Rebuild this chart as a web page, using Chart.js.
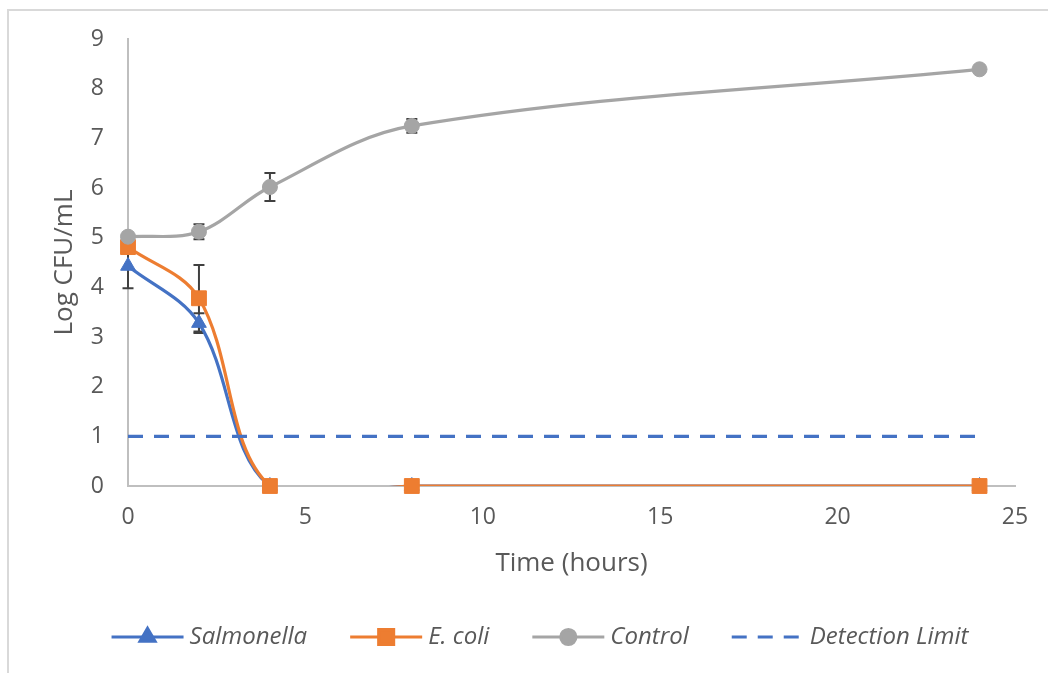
<!DOCTYPE html>
<html>
<head>
<meta charset="utf-8">
<title>Log CFU/mL over time</title>
<script src="https://cdn.jsdelivr.net/npm/chart.js@4.4.0/dist/chart.umd.min.js"></script>
<style>
  html, body { margin: 0; padding: 0; background: #fff; }
  #wrap { width: 1048px; height: 673px; }
</style>
</head>
<body>
<div id="wrap"><canvas id="stage" width="1048" height="673"></canvas></div>
<script>
// sampling times (hours)
var times = [0, 2, 4, 8, 24];
var seriesNames = ['Salmonella', 'E. coli', 'Control', 'Detection Limit'];

// log CFU/mL
var salmonella = [4.43, 3.28, 0, 0, 0];
var salmonellaErr = [0.45, 0.2, 0, 0, 0];
var ecoli = [4.81, 3.78, 0, 0, 0];
var ecoliErr = [0, 0.67, 0, 0, 0];
var control = [5.02, 5.12, 6.02, 7.25, 8.39];
var controlErr = [0, 0.15, 0.28, 0.14, 0];
var limitTimes = [0, 24];
var limitValues = [1, 1];

var xTicks = { min: 0, max: 25, step: 5 };
var yTicks = { min: 0, max: 9, step: 1 };

var BLUE = '#4472C4', ORANGE = '#ED7D31', GREY = '#A5A5A5', TEXT = '#595959';
var FONT = "'Open Sans', 'Noto Sans', sans-serif";
var LW = 3.2;

function pts(xs, ys) {
    return xs.map(function (x, i) { return { x: x, y: ys[i] }; });
}

// line and markers are split so the smoothed line gets clipped at 0 but markers don't
function lineSet(label, ys, color, order) {
    return {
        label: label, data: pts(times, ys), borderColor: color, backgroundColor: color,
        borderWidth: LW, pointRadius: 0, tension: 0.35, order: order
    };
}
function markerSet(label, ys, color, style, r, order) {
    return {
        label: label, data: pts(times, ys), showLine: false, clip: false,
        pointStyle: style, pointRadius: r, pointHoverRadius: r,
        pointBackgroundColor: color, pointBorderColor: color, pointBorderWidth: 1,
        order: order
    };
}

var legendItems = [
    { text: seriesNames[0], color: BLUE, style: 'triangle', r: 8.5 },
    { text: seriesNames[1], color: ORANGE, style: 'rect', r: 10.5 },
    { text: seriesNames[2], color: GREY, style: 'circle', r: 7.5 },
    { text: seriesNames[3], color: BLUE, dash: [15, 11] }
];

var framePlugin = {
    id: 'frame',
    beforeDraw: function (chart) {
        var ctx = chart.ctx;
        ctx.save();
        ctx.fillStyle = '#fff';
        ctx.fillRect(0, 0, chart.width, chart.height);
        ctx.strokeStyle = '#d9d9d9';
        ctx.lineWidth = 2;
        ctx.beginPath();
        ctx.moveTo(8, chart.height + 2);
        ctx.lineTo(8, 10);
        ctx.lineTo(chart.width + 2, 10);
        ctx.stroke();
        ctx.restore();
    }
};

var errorBarPlugin = {
    id: 'errorBars',
    beforeDatasetsDraw: function (chart) {
        var ctx = chart.ctx, xs = chart.scales.x, ys = chart.scales.y;
        var groups = [[salmonella, salmonellaErr], [ecoli, ecoliErr], [control, controlErr]];
        ctx.save();
        ctx.strokeStyle = '#404040';
        ctx.lineWidth = 2;
        groups.forEach(function (g) {
            for (var i = 0; i < times.length; i++) {
                if (!g[1][i]) continue;
                var px = xs.getPixelForValue(times[i]);
                var top = ys.getPixelForValue(g[0][i] + g[1][i]);
                var bot = ys.getPixelForValue(g[0][i] - g[1][i]);
                ctx.beginPath();
                ctx.moveTo(px, top); ctx.lineTo(px, bot);
                ctx.moveTo(px - 5.5, top); ctx.lineTo(px + 5.5, top);
                ctx.moveTo(px - 5.5, bot); ctx.lineTo(px + 5.5, bot);
                ctx.stroke();
            }
        });
        ctx.restore();
    }
};

var legendPlugin = {
    id: 'lineLegend',
    afterDraw: function (chart) {
        var ctx = chart.ctx;
        var lineLen = 72, textGap = 6, itemGap = 43, y = 637;
        ctx.save();
        ctx.font = 'italic 24px ' + FONT;
        var total = 0;
        legendItems.forEach(function (it) {
            it.w = ctx.measureText(it.text).width;
            total += lineLen + textGap + it.w;
        });
        total += itemGap * (legendItems.length - 1);
        var x = 540 - total / 2;
        legendItems.forEach(function (it) {
            ctx.strokeStyle = it.color;
            ctx.lineWidth = LW;
            ctx.setLineDash(it.dash || []);
            ctx.beginPath();
            ctx.moveTo(x, y); ctx.lineTo(x + lineLen, y);
            ctx.stroke();
            ctx.setLineDash([]);
            if (it.style) {
                ctx.fillStyle = it.color;
                Chart.helpers.drawPoint(ctx, { pointStyle: it.style, radius: it.r, rotation: 0, borderWidth: 1 }, x + lineLen / 2, y);
            }
            ctx.fillStyle = TEXT;
            ctx.textBaseline = 'middle';
            ctx.textAlign = 'left';
            ctx.fillText(it.text, x + lineLen + textGap, y);
            x += lineLen + textGap + it.w + itemGap;
        });
        ctx.restore();
    }
};

var canvas = document.getElementById('stage');
var chart = new Chart(canvas, {
    type: 'line',
    data: {
        datasets: [
            {
                label: seriesNames[3], data: pts(limitTimes, limitValues), borderColor: BLUE,
                borderWidth: LW, borderDash: [15, 11], pointRadius: 0, tension: 0, order: 0
            },
            markerSet(seriesNames[2], control, GREY, 'circle', 7.5, 1),
            lineSet(seriesNames[2], control, GREY, 2),
            markerSet(seriesNames[1], ecoli, ORANGE, 'rect', 10.5, 3),
            lineSet(seriesNames[1], ecoli, ORANGE, 4),
            markerSet(seriesNames[0], salmonella, BLUE, 'triangle', 8.5, 5),
            lineSet(seriesNames[0], salmonella, BLUE, 6)
        ]
    },
    options: {
        responsive: false,
        animation: false,
        layout: { padding: { left: 45, top: 39, right: 33, bottom: 90 } },
        elements: { line: { capBezierPoints: false } },
        plugins: { legend: { display: false }, tooltip: { enabled: false } },
        scales: {
            x: {
                type: 'linear', min: xTicks.min, max: xTicks.max,
                ticks: { stepSize: xTicks.step, color: TEXT, padding: 18, font: { family: FONT, size: 23 } },
                grid: { display: false, drawTicks: false },
                border: { display: true, color: '#bfbfbf', width: 2 },
                title: { display: true, text: 'Time (hours)', color: TEXT, font: { family: FONT, size: 26 } },
                afterFit: function (s) { s.height = 97; }
            },
            y: {
                min: yTicks.min, max: yTicks.max,
                ticks: { stepSize: yTicks.step, color: TEXT, padding: 24, font: { family: FONT, size: 23 } },
                grid: { display: false, drawTicks: false },
                border: { display: true, color: '#bfbfbf', width: 2 },
                title: { display: true, text: 'Log CFU/mL', color: TEXT, font: { family: FONT, size: 26 } },
                afterFit: function (s) { s.width = 83; }
            }
        }
    },
    plugins: [framePlugin, errorBarPlugin, legendPlugin]
});
</script>
</body>
</html>
